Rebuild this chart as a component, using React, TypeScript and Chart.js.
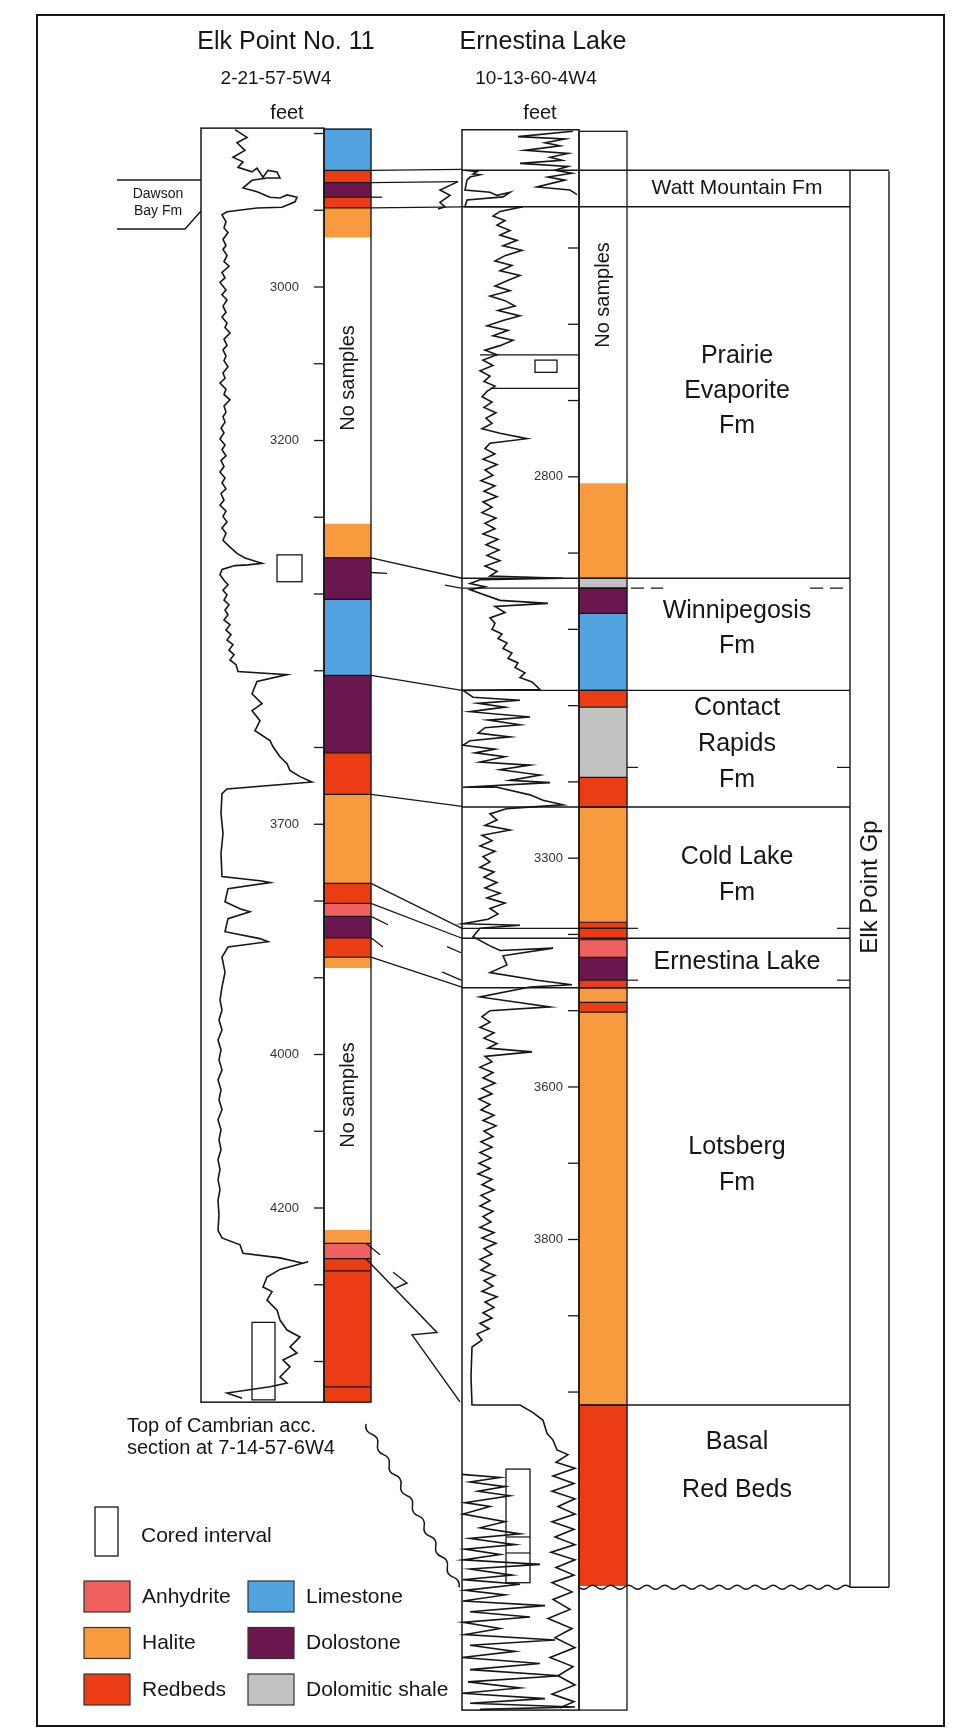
import React, { useEffect, useRef } from 'react';
import { Chart, registerables } from 'chart.js';
Chart.register(...registerables);

// ---------------- DATA ----------------
const LITH_COLORS: Record<string, string> = {
  Anhydrite: '#F0605E',
  Halite: '#F89A3E',
  Redbeds: '#EC3C14',
  Limestone: '#52A3E0',
  Dolostone: '#6C1650',
  'Dolomitic shale': '#C2C2C2',
};

// Elk Point No. 11 (left well) lithology, depths in feet
const LEFT_TOP = [2794, 2848, 2864, 2883, 2897, 3309, 3353, 3407, 3506, 3607, 3661, 3777, 3803, 3820, 3848, 3873, 4229, 4246, 4266];
const LEFT_BASE = [2848, 2864, 2883, 2897, 2935, 3353, 3407, 3506, 3607, 3661, 3777, 3803, 3820, 3848, 3873, 3887, 4246, 4266, 4453];
const LEFT_LITH = ['Limestone', 'Redbeds', 'Dolostone', 'Redbeds', 'Halite', 'Halite', 'Dolostone', 'Limestone', 'Dolostone', 'Redbeds', 'Halite', 'Redbeds', 'Anhydrite', 'Dolostone', 'Redbeds', 'Halite', 'Halite', 'Anhydrite', 'Redbeds'];
const LEFT_EXTRA_LINES = [4282, 4433];

// Ernestina Lake (right well) lithology
const RIGHT_TOP = [2809, 2933, 2946, 2979, 3080, 3102, 3194, 3233, 3384, 3407, 3430, 3460, 3470, 3489, 3502, 4017];
const RIGHT_BASE = [2933, 2946, 2979, 3080, 3102, 3194, 3233, 3384, 3407, 3430, 3460, 3470, 3489, 3502, 4017, 4254];
const RIGHT_LITH = ['Halite', 'Dolomitic shale', 'Dolostone', 'Limestone', 'Redbeds', 'Dolomitic shale', 'Redbeds', 'Halite', 'Redbeds', 'Anhydrite', 'Dolostone', 'Redbeds', 'Halite', 'Redbeds', 'Halite', 'Redbeds'];
const RIGHT_EXTRA_LINES = [3392];

// well extents
const L_WELL_TOP = 2793, L_WELL_BASE = 4453;
const R_WELL_TOP = 2345, R_COL_TOP = 2347, R_WELL_BASE = 4417;

// depth ticks
const LEFT_TICKS = [2800, 2900, 3000, 3100, 3200, 3300, 3400, 3500, 3600, 3700, 3800, 3900, 4000, 4100, 4200, 4300, 4400];
const LEFT_TICK_LABELS = [3000, 3200, 3700, 4000, 4200];
const RIGHT_TICKS = [2500, 2600, 2700, 2800, 2900, 3000, 3100, 3200, 3300, 3400, 3500, 3600, 3700, 3800, 3900, 4000];
const RIGHT_TICK_LABELS = [2800, 3300, 3600, 3800];

// formations (Ernestina Lake depths)
const FM_NAMES = ['Watt Mountain Fm', 'Prairie\nEvaporite\nFm', 'Winnipegosis\nFm', 'Contact\nRapids\nFm', 'Cold Lake\nFm', 'Ernestina Lake', 'Lotsberg\nFm', 'Basal\nRed Beds'];
const FM_TOPS = [2398, 2446, 2933, 3080, 3233, 3405, 3470, 4017];
const FM_BASE_UNCONFORMITY = 4256;
const WINNIPEGOSIS_DASHED = 2946;
const EXTRA_TRACK_LINES_R = [2946, 3392];
const MARK_TICKS_R = [3181, 3392, 3460];

// correlation lines: Elk Point depth -> Ernestina depth
const CORR_LEFT = [2848, 2864, 2897, 3353, 3506, 3661, 3777, 3803, 3873];
const CORR_RIGHT = [2397, 2413, 2446, 2933, 3080, 3232, 3392, 3405, 3469];
const STUB_L_FROM = [2883, 3372, 3820, 3848, 4246];
const STUB_L_TO = [2883, 3373, 3831, 3860, 4261];
const STUB_R_FROM = [2942, 3416, 3449];
const STUB_R_TO = [2946, 3424, 3460];

// cored intervals
const CORE_L_TOP = [3349, 4349];
const CORE_L_BASE = [3384, 4450];
const CORE_R_TOP = [2647, 4101];
const CORE_R_BASE = [2663, 4250];
const CORE_R_INNER = [4190, 4211];

// gamma-ray style log curves: [deflection, depth]
const LEFT_LOG: number[][] = [
  [235, 2795], [247, 2805], [237, 2812], [245, 2822], [233, 2831], [243, 2837], [238, 2844], [252, 2850], [257, 2845], [263, 2857], [268, 2848], [277, 2850], [280, 2858], [267, 2858], [252, 2861], [243, 2871], [257, 2876], [270, 2883], [280, 2884], [287, 2880], [297, 2883], [295, 2889], [282, 2896], [257, 2897], [227, 2902], [222, 2906],
  [226, 2915], [224, 2923], [228, 2929], [223, 2938], [226, 2946], [223, 2951], [227, 2959], [224, 2967], [229, 2973], [222, 2981], [225, 2988], [220, 2994], [226, 3004], [222, 3010], [227, 3017], [223, 3025], [226, 3033], [222, 3039], [227, 3047], [225, 3053], [230, 3060], [224, 3068], [227, 3076], [223, 3082], [226, 3090], [224, 3096], [228, 3104], [223, 3112], [225, 3119], [220, 3125], [226, 3133], [224, 3140], [230, 3147], [224, 3155], [226, 3163], [223, 3169], [225, 3176], [221, 3184], [224, 3190], [220, 3198], [225, 3206], [222, 3212], [226, 3220], [221, 3226], [224, 3234], [220, 3241], [225, 3249], [222, 3255], [226, 3263], [221, 3269], [224, 3278], [220, 3284], [226, 3292], [223, 3299], [227, 3306], [222, 3314], [226, 3321], [223, 3330], [230, 3339], [237, 3347],
  [245, 3353], [262, 3360], [248, 3362], [235, 3363], [222, 3368], [220, 3375],
  [224, 3382], [228, 3388], [223, 3395], [227, 3401], [224, 3408], [229, 3414], [225, 3421], [228, 3427], [224, 3434], [230, 3440], [226, 3447], [231, 3453], [227, 3460], [233, 3466], [229, 3473], [234, 3479], [230, 3486], [236, 3492], [238, 3501],
  [287, 3505], [257, 3514], [252, 3530], [262, 3543], [252, 3552], [260, 3565], [255, 3578], [270, 3591], [273, 3599], [280, 3612], [287, 3621], [290, 3630], [300, 3638], [312, 3645], [227, 3654],
  [222, 3660], [221, 3686], [223, 3712], [221, 3738], [222, 3768],
  [262, 3774], [270, 3776], [228, 3784], [225, 3801], [240, 3810], [250, 3814], [228, 3823], [225, 3840], [260, 3849], [268, 3853], [228, 3860], [222, 3873], [225, 3893], [222, 3912],
  [220, 3929], [222, 3942], [219, 3955], [222, 3968], [218, 3981], [221, 3994], [219, 4007], [222, 4020], [218, 4033], [221, 4046], [219, 4059], [222, 4072], [218, 4085], [221, 4098], [219, 4111], [221, 4124], [218, 4137], [220, 4150], [218, 4163], [220, 4176], [218, 4190], [219, 4209], [218, 4229], [222, 4239],
  [240, 4248], [243, 4259], [280, 4265], [303, 4272], [308, 4270], [280, 4280], [267, 4290], [263, 4303], [272, 4309], [267, 4320], [277, 4333], [280, 4346], [287, 4359], [300, 4368], [290, 4381], [297, 4389], [283, 4398], [290, 4407], [280, 4420], [287, 4428], [270, 4433], [227, 4441], [242, 4448],
];

const RIGHT_LOG_TOP: number[][] = [
  [573, 2347], [518, 2354], [565, 2357], [545, 2362], [560, 2366], [525, 2372], [568, 2376], [550, 2381], [562, 2385], [520, 2389], [568, 2393], [555, 2398], [572, 2402], [548, 2407], [565, 2411], [537, 2420], [570, 2424], [577, 2430],
];

const RIGHT_LOG: number[][] = [
  [465, 2398], [477, 2400], [473, 2403], [480, 2404], [470, 2407], [467, 2411], [465, 2424], [490, 2427], [497, 2431], [510, 2427], [503, 2433], [467, 2437], [465, 2446], [523, 2446],
  [500, 2452], [493, 2458], [505, 2464], [497, 2470], [510, 2477], [500, 2483], [517, 2490], [503, 2497], [522, 2503], [505, 2510], [495, 2517], [512, 2523], [500, 2530], [520, 2536], [507, 2543], [495, 2550], [510, 2556], [490, 2563], [505, 2569], [515, 2576], [498, 2582], [520, 2589], [503, 2595], [487, 2602], [508, 2608], [493, 2615], [513, 2621], [500, 2628], [485, 2634], [497, 2640], [483, 2647], [493, 2654], [480, 2661], [490, 2668], [484, 2675], [495, 2681], [487, 2688], [482, 2695], [492, 2702], [484, 2709], [496, 2716], [486, 2723], [492, 2730], [482, 2737], [500, 2743], [527, 2750], [490, 2756], [485, 2763], [495, 2770], [483, 2777], [497, 2784], [485, 2791], [493, 2798], [481, 2805], [495, 2812], [484, 2819], [497, 2826], [483, 2833], [492, 2840], [482, 2847], [496, 2854], [485, 2861], [495, 2868], [483, 2875], [498, 2882], [486, 2889], [499, 2896], [487, 2903], [500, 2910], [485, 2917], [497, 2924], [490, 2930],
  [563, 2933], [480, 2935], [470, 2940], [485, 2944], [470, 2948], [500, 2962], [548, 2966], [495, 2970], [505, 2978], [490, 2985],
  [495, 2992], [492, 3000], [502, 3006], [498, 3012], [507, 3018], [503, 3025], [512, 3031], [508, 3038], [518, 3044], [515, 3050], [525, 3057], [520, 3063], [532, 3069], [537, 3075], [540, 3079], [463, 3080],
  [473, 3089], [520, 3093], [478, 3097], [505, 3102], [470, 3108], [530, 3115], [488, 3119], [520, 3125], [485, 3129], [478, 3136], [510, 3141], [470, 3146], [463, 3152], [495, 3157], [475, 3162], [505, 3167], [480, 3174], [530, 3178], [500, 3184], [540, 3191], [510, 3198], [550, 3201], [463, 3207], [497, 3207], [530, 3217], [543, 3224], [563, 3230],
  [507, 3235], [490, 3242], [497, 3250], [485, 3257], [510, 3263], [482, 3270], [492, 3277], [480, 3284], [495, 3291], [483, 3298], [490, 3305], [480, 3312], [494, 3318], [484, 3325], [497, 3332], [485, 3339], [500, 3346], [487, 3352], [505, 3359], [490, 3366], [498, 3373], [488, 3380], [463, 3386], [520, 3388], [480, 3392],
  [473, 3403], [490, 3415], [500, 3421], [553, 3418], [503, 3428], [507, 3440], [490, 3450], [537, 3460], [572, 3466], [530, 3469], [480, 3482], [550, 3495], [490, 3500],
  [482, 3508], [490, 3515], [480, 3522], [494, 3529], [484, 3536], [497, 3543], [488, 3549], [532, 3554], [485, 3560], [492, 3567], [480, 3574], [493, 3581], [483, 3588], [495, 3595], [482, 3602], [492, 3609], [479, 3616], [490, 3623], [481, 3630], [494, 3637], [483, 3644], [496, 3651], [484, 3658], [493, 3665], [481, 3672], [492, 3679], [480, 3686], [491, 3693], [479, 3700], [490, 3707], [478, 3714], [492, 3721], [482, 3728], [494, 3735], [481, 3742], [490, 3749], [480, 3756], [493, 3763], [483, 3770], [491, 3777], [480, 3784], [494, 3791], [482, 3798], [496, 3805], [484, 3812], [492, 3819], [480, 3826], [490, 3833], [481, 3840], [495, 3847], [484, 3854], [493, 3861], [482, 3868], [497, 3875], [485, 3882], [494, 3889], [483, 3896], [492, 3903], [480, 3910], [489, 3917], [477, 3924], [482, 3932],
  [472, 3941], [471, 3980], [472, 4017], [520, 4017], [533, 4027], [543, 4037], [547, 4054], [553, 4063], [557, 4076],
  [568, 4082], [556, 4092], [575, 4100], [553, 4110], [574, 4120], [552, 4130], [575, 4140], [558, 4150], [575, 4160], [552, 4170], [574, 4180], [555, 4190], [575, 4200], [551, 4210], [575, 4220], [556, 4230], [574, 4240], [552, 4250], [572, 4262], [553, 4272], [570, 4285], [548, 4297], [572, 4310], [555, 4322], [575, 4335], [550, 4348], [573, 4360], [558, 4372], [575, 4384], [552, 4396], [574, 4406], [560, 4414],
];

const RIGHT_LOG_BASAL: number[][] = [
  [462, 4108], [500, 4112], [470, 4118], [505, 4124], [478, 4130], [510, 4136], [465, 4145], [490, 4150], [463, 4160], [505, 4170], [480, 4178], [520, 4186], [470, 4192], [515, 4200], [465, 4206], [500, 4213], [463, 4220], [540, 4226], [470, 4232], [512, 4240], [463, 4246], [520, 4252], [465, 4260], [505, 4266], [463, 4274], [545, 4280], [470, 4288], [530, 4295], [463, 4302], [500, 4310], [465, 4318], [555, 4325], [470, 4332], [515, 4340], [462, 4348], [540, 4356], [470, 4364], [560, 4372], [468, 4380], [520, 4388], [462, 4395], [545, 4402], [470, 4408], [575, 4413], [480, 4416],
];

// Dawson Bay wiggle between wells (Ernestina depths)
const INTERWELL_WIGGLE: number[][] = [[458, 2413], [440, 2424], [450, 2431], [440, 2440], [445, 2446], [438, 2449]];

const LEGEND_ITEMS = ['Anhydrite', 'Halite', 'Redbeds', 'Limestone', 'Dolostone', 'Dolomitic shale'];

// ---------------- LAYOUT ----------------
const W = 968, H = 1730;
const YL_MIN = 2626.06, YL_MAX = 4880.13;
const YR_MIN = 2174.84, YR_MAX = 4443.1;
const L_TRACK = [201, 324], L_COL = [324, 371];
const R_TRACK = [462, 579], R_COL = [579, 627];
const FM_RIGHT = 850, GP_RIGHT = 889;
const INK = '#161616';
const FONT = '"Liberation Sans", Arial, Helvetica, sans-serif';

const sectionPlugin = {
  id: 'section',
  beforeDraw(chart: any) {
    const c = chart.ctx;
    c.save();
    c.fillStyle = '#ffffff';
    c.fillRect(0, 0, chart.width, chart.height);
    c.restore();
  },
  afterDatasetsDraw(chart: any) {
    const ctx = chart.ctx;
    const sx = chart.scales.x, sl = chart.scales.yL, sr = chart.scales.yR;
    const X = (v: number) => sx.getPixelForValue(v);
    const YL = (d: number) => sl.getPixelForValue(d);
    const YR = (d: number) => sr.getPixelForValue(d);
    ctx.save();
    ctx.strokeStyle = INK;
    ctx.fillStyle = INK;
    ctx.lineJoin = 'miter';
    const poly = (pts: number[][], w = 1.3) => {
      ctx.lineWidth = w;
      ctx.beginPath();
      pts.forEach((p, i) => (i ? ctx.lineTo(p[0], p[1]) : ctx.moveTo(p[0], p[1])));
      ctx.stroke();
    };
    const rect = (x1: number, y1: number, x2: number, y2: number, w = 1.4) => {
      ctx.lineWidth = w;
      ctx.strokeRect(x1, y1, x2 - x1, y2 - y1);
    };
    const text = (s: string, x: number, y: number, size: number, align: CanvasTextAlign = 'center') => {
      ctx.font = `${size}px ${FONT}`;
      ctx.textAlign = align;
      ctx.textBaseline = 'middle';
      ctx.fillText(s, x, y);
    };
    const vtext = (s: string, x: number, y: number, size: number) => {
      ctx.save();
      ctx.translate(x, y);
      ctx.rotate(-Math.PI / 2);
      text(s, 0, 0, size);
      ctx.restore();
    };
    const wavy = (x1: number, y1: number, x2: number, y2: number, n: number, amp: number, w = 1.4) => {
      const len = Math.hypot(x2 - x1, y2 - y1);
      const nx = -(y2 - y1) / len, ny = (x2 - x1) / len;
      const dx = (x2 - x1) / n, dy = (y2 - y1) / n;
      ctx.lineWidth = w;
      ctx.beginPath();
      ctx.moveTo(x1, y1);
      for (let i = 0; i < n; i++) {
        const s = i % 2 === 0 ? 1 : -1;
        ctx.quadraticCurveTo(x1 + dx * (i + 0.5) + nx * amp * s, y1 + dy * (i + 0.5) + ny * amp * s, x1 + dx * (i + 1), y1 + dy * (i + 1));
      }
      ctx.stroke();
    };

    // outer frame
    rect(37, 15, 944, 1726, 2);

    // titles
    text('Elk Point No. 11', 286, 42, 25);
    text('Ernestina Lake', 543, 42, 25);
    text('2-21-57-5W4', 276, 79, 19);
    text('10-13-60-4W4', 536, 79, 19);
    text('feet', 287, 113, 20);
    text('feet', 540, 113, 20);

    // ---- left well
    rect(X(L_TRACK[0]), YL(L_WELL_TOP), X(L_TRACK[1]), YL(L_WELL_BASE), 1.5);
    rect(X(L_COL[0]), YL(L_WELL_TOP) + 1, X(L_COL[1]), YL(L_WELL_BASE), 1.3);
    LEFT_TOP.forEach((t, i) => {
      if (i > 0 && LEFT_BASE[i - 1] === t) poly([[X(L_COL[0]), YL(t)], [X(L_COL[1]), YL(t)]], 1.2);
    });
    LEFT_EXTRA_LINES.forEach((d) => poly([[X(L_COL[0]), YL(d)], [X(L_COL[1]), YL(d)]], 1.3));
    LEFT_TICKS.forEach((d) => poly([[X(L_TRACK[1]) - 10, YL(d)], [X(L_TRACK[1]), YL(d)]], 1.3));
    ctx.fillStyle = '#333';
    LEFT_TICK_LABELS.forEach((d) => text(String(d), X(L_TRACK[1]) - 25, YL(d), 13, 'right'));
    ctx.fillStyle = INK;
    CORE_L_TOP.forEach((t, i) => rect(X(i === 0 ? 277 : 252), YL(t), X(i === 0 ? 302 : 275), YL(CORE_L_BASE[i]), 1.3));
    vtext('No samples', 348, 378, 20);
    vtext('No samples', 348, 1095, 20);

    // Dawson Bay label
    poly([[117, 180], [X(L_TRACK[0]), 180]], 1.4);
    poly([[117, 229], [185, 229], [X(L_TRACK[0]), 211]], 1.4);
    text('Dawson', 158, 194, 14);
    text('Bay Fm', 158, 211, 14);

    // ---- right well
    rect(X(R_TRACK[0]), YR(R_WELL_TOP), X(R_TRACK[1]), YR(R_WELL_BASE), 1.5);
    rect(X(R_COL[0]), YR(R_COL_TOP), X(R_COL[1]), YR(R_WELL_BASE), 1.3);
    RIGHT_TOP.forEach((t, i) => {
      if (i > 0 && RIGHT_BASE[i - 1] === t) poly([[X(R_COL[0]), YR(t)], [X(R_COL[1]), YR(t)]], 1.2);
    });
    RIGHT_EXTRA_LINES.forEach((d) => poly([[X(R_COL[0]), YR(d)], [X(R_COL[1]), YR(d)]], 1.2));
    RIGHT_TICKS.forEach((d) => poly([[X(R_TRACK[1]) - 11, YR(d)], [X(R_TRACK[1]), YR(d)]], 1.3));
    ctx.fillStyle = '#333';
    RIGHT_TICK_LABELS.forEach((d) => text(String(d), X(R_TRACK[1]) - 16, YR(d), 13, 'right'));
    ctx.fillStyle = INK;
    rect(X(535), YR(CORE_R_TOP[0]), X(557), YR(CORE_R_BASE[0]), 1.3);
    rect(X(506), YR(CORE_R_TOP[1]), X(530), YR(CORE_R_BASE[1]), 1.3);
    CORE_R_INNER.forEach((d) => poly([[X(506), YR(d)], [X(530), YR(d)]], 1.2));
    poly([[X(480), YR(2640)], [X(R_TRACK[1]), YR(2640)]], 1.3);
    poly([[X(490), YR(2684)], [X(R_TRACK[1]), YR(2684)]], 1.3);
    vtext('No samples', 603, 295, 20);

    // formation column
    FM_TOPS.forEach((d, i) => {
      const x0 = i === FM_TOPS.length - 1 ? X(R_COL[0]) : X(R_TRACK[0]);
      const x1 = i === 0 ? X(GP_RIGHT) : X(FM_RIGHT);
      poly([[x0, YR(d)], [x1, YR(d)]], 1.4);
    });
    EXTRA_TRACK_LINES_R.forEach((d) => poly([[X(R_TRACK[0]), YR(d)], [X(R_COL[1]), YR(d)]], 1.2));
    ctx.setLineDash([13, 7]);
    poly([[X(R_COL[1]) + 4, YR(WINNIPEGOSIS_DASHED)], [X(R_COL[1]) + 36, YR(WINNIPEGOSIS_DASHED)]], 1.4);
    poly([[X(FM_RIGHT) - 40, YR(WINNIPEGOSIS_DASHED)], [X(FM_RIGHT), YR(WINNIPEGOSIS_DASHED)]], 1.4);
    ctx.setLineDash([]);
    poly([[X(FM_RIGHT), YR(FM_TOPS[0])], [X(FM_RIGHT), YR(FM_BASE_UNCONFORMITY)]], 1.4);
    poly([[X(GP_RIGHT), YR(FM_TOPS[0]) + 1], [X(GP_RIGHT), YR(FM_BASE_UNCONFORMITY)]], 1.4);
    MARK_TICKS_R.forEach((d) => {
      poly([[X(R_COL[1]), YR(d)], [X(R_COL[1]) + 11, YR(d)]], 1.2);
      poly([[X(FM_RIGHT) - 13, YR(d)], [X(FM_RIGHT), YR(d)]], 1.2);
    });
    const yU = YR(FM_BASE_UNCONFORMITY);
    wavy(X(R_COL[0]), yU, X(FM_RIGHT), yU, 30, 4, 1.4);
    poly([[X(FM_RIGHT), yU], [X(GP_RIGHT), yU]], 1.4);
    vtext('Elk Point Gp', 870, 887, 24);

    // formation names
    const fmLabelY = [[188], [356, 391, 426], [611, 646], [708, 744, 780], [857, 893], [962], [1147, 1183], [1442, 1490]];
    FM_NAMES.forEach((nm, i) => {
      const lines = nm.split('\n');
      lines.forEach((ln, j) => text(ln, 737, fmLabelY[i][j], i === 0 ? 21 : 25));
    });

    // correlation lines
    CORR_LEFT.forEach((d, i) => {
      const xEnd = i === 1 ? 458 : X(R_TRACK[0]);
      poly([[X(L_COL[1]), YL(d)], [xEnd, YR(CORR_RIGHT[i])]], 1.3);
    });
    STUB_L_FROM.forEach((d, i) => {
      const xe = [382, 387, 388, 383, 380][i];
      poly([[X(L_COL[1]) - (i === 4 ? 5 : 0), YL(d)], [X(xe), YL(STUB_L_TO[i])]], 1.3);
    });
    STUB_R_FROM.forEach((d, i) => {
      const xs = [445, 447, 442][i];
      poly([[X(xs), YR(d)], [X(R_TRACK[0]) - 1, YR(STUB_R_TO[i])]], 1.3);
    });
    // lower zig-zag correlation (Lotsberg halite wedge)
    poly([[X(366), YL(4266)], [X(437), YR(3922)], [X(412), YR(3925)], [X(R_TRACK[0]) - 2, YR(4013)]], 1.4);
    poly([[X(393), YR(3843)], [X(407), YR(3857)], [X(395), YR(3864)]], 1.4);

    // legend
    ctx.fillStyle = INK;
    text('Top of Cambrian acc.', 127, 1426, 20, 'left');
    text('section at 7-14-57-6W4', 127, 1448, 20, 'left');
    wavy(366, 1424, X(R_TRACK[0]) - 3, YR(FM_BASE_UNCONFORMITY), 16, 5, 1.5);
    rect(95, 1507, 118, 1556, 1.3);
    text('Cored interval', 141, 1536, 21, 'left');
    LEGEND_ITEMS.forEach((nm, i) => {
      const col = Math.floor(i / 3), row = i % 3;
      const x0 = col === 0 ? 84 : 248;
      const y0 = 1581 + row * 46.5;
      ctx.fillStyle = LITH_COLORS[nm];
      ctx.fillRect(x0, y0, 46, 31);
      ctx.strokeStyle = '#333';
      ctx.lineWidth = 1.2;
      ctx.strokeRect(x0, y0, 46, 31);
      ctx.fillStyle = INK;
      ctx.strokeStyle = INK;
      text(nm, x0 + 58, y0 + 16, 21, 'left');
    });
    ctx.restore();
  },
};

const lithBars = (tops: number[], bases: number[], xCenter: number) =>
  tops.map((t, i) => ({ x: xCenter, y: [t, bases[i]] }));

export default function App() {
  const ref = useRef<HTMLCanvasElement>(null);
  useEffect(() => {
    const canvas = ref.current;
    if (!canvas) return;
    const curve = (pts: number[][]) => pts.map((p) => ({ x: p[0], y: p[1] }));
    const lineDs = (pts: number[][], axis: string) => ({
      type: 'line' as const,
      data: curve(pts),
      yAxisID: axis,
      borderColor: INK,
      borderWidth: 1.6,
      pointRadius: 0,
      tension: 0,
      fill: false,
      order: 1,
    });
    const chart = new Chart(canvas, {
      type: 'bar',
      data: {
        datasets: [
          {
            type: 'bar',
            label: 'Elk Point No. 11',
            data: lithBars(LEFT_TOP, LEFT_BASE, (L_COL[0] + L_COL[1]) / 2) as any,
            backgroundColor: LEFT_LITH.map((l) => LITH_COLORS[l]),
            yAxisID: 'yL',
            barThickness: L_COL[1] - L_COL[0],
            borderWidth: 0,
            stack: 'lith',
            order: 2,
          },
          {
            type: 'bar',
            label: 'Ernestina Lake',
            data: lithBars(RIGHT_TOP, RIGHT_BASE, (R_COL[0] + R_COL[1]) / 2) as any,
            backgroundColor: RIGHT_LITH.map((l) => LITH_COLORS[l]),
            yAxisID: 'yR',
            barThickness: R_COL[1] - R_COL[0],
            borderWidth: 0,
            stack: 'lith',
            order: 2,
          },
          lineDs(LEFT_LOG, 'yL') as any,
          lineDs(RIGHT_LOG_TOP, 'yR') as any,
          lineDs(RIGHT_LOG, 'yR') as any,
          lineDs(RIGHT_LOG_BASAL, 'yR') as any,
          lineDs(INTERWELL_WIGGLE, 'yR') as any,
        ],
      },
      options: {
        animation: false,
        responsive: false,
        devicePixelRatio: 1,
        events: [],
        layout: { padding: 0, autoPadding: false },
        plugins: { legend: { display: false }, tooltip: { enabled: false }, title: { display: false } },
        scales: {
          x: { type: 'linear', min: 0, max: W, display: false, offset: false },
          y: { type: 'linear', display: false },
          yL: { type: 'linear', reverse: true, min: YL_MIN, max: YL_MAX, display: false },
          yR: { type: 'linear', reverse: true, min: YR_MIN, max: YR_MAX, display: false },
        },
      } as any,
      plugins: [sectionPlugin],
    });
    return () => chart.destroy();
  }, []);
  return (
    <div style={{ position: 'absolute', left: 0, top: 0, width: W, height: H, background: '#fff' }}>
      <canvas ref={ref} width={W} height={H} style={{ display: 'block', width: W, height: H }} />
    </div>
  );
}
